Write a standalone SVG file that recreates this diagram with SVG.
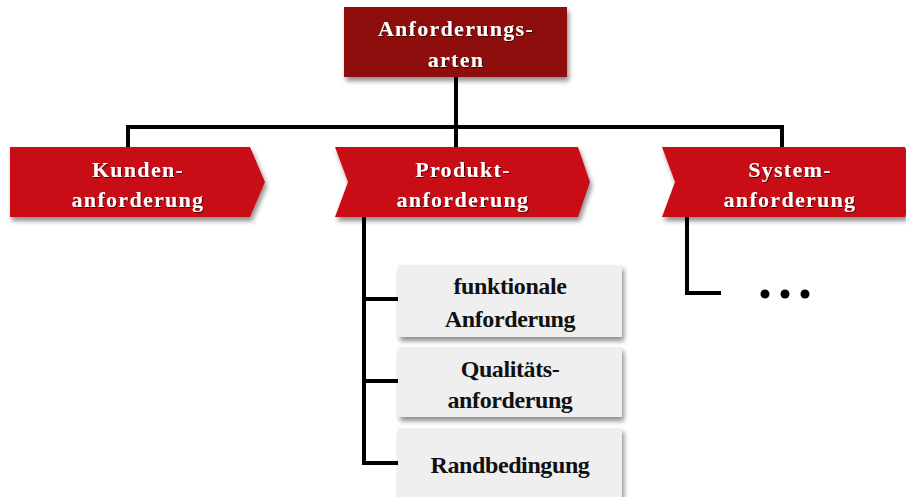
<svg xmlns="http://www.w3.org/2000/svg" width="906" height="497" viewBox="0 0 906 497">
  <defs>
    <filter id="shadow" x="-10%" y="-20%" width="130%" height="150%">
      <feGaussianBlur in="SourceAlpha" stdDeviation="2.5"/>
      <feOffset dx="2" dy="4" result="blur"/>
      <feComponentTransfer><feFuncA type="linear" slope="0.45"/></feComponentTransfer>
      <feMerge><feMergeNode/><feMergeNode in="SourceGraphic"/></feMerge>
    </filter>
    <filter id="textshadow" x="-5%" y="-20%" width="110%" height="150%">
      <feGaussianBlur in="SourceAlpha" stdDeviation="0.6"/>
      <feOffset dx="1" dy="1"/>
      <feComponentTransfer><feFuncA type="linear" slope="0.6"/></feComponentTransfer>
      <feMerge><feMergeNode/><feMergeNode in="SourceGraphic"/></feMerge>
    </filter>
  </defs>
  <style>
    .root { fill: #8E0E10; }
    .chev { fill: #C81013; }
    .leaf { fill: #EFEFEF; }
    .wt { font-family: "Liberation Serif", "Times New Roman", serif; font-weight: bold; font-size: 22px; letter-spacing: 1.3px; fill: #FFFFFF; text-anchor: middle; }
    .bt { font-family: "Liberation Serif", "Times New Roman", serif; font-weight: bold; font-size: 24px; letter-spacing: -0.4px; fill: #111111; text-anchor: middle; }
    .line { fill: none; stroke: #000000; stroke-width: 4; }
  </style>

  <!-- connectors -->
  <g id="connectors">
    <path class="line" d="M456 77 V127 M128 127 H782 M128 125 V147 M456 127 V147 M782 125 V147"/>
    <path class="line" d="M364 217 V463 M362 299 H398 M362 381 H398 M362 463 H398"/>
    <path class="line" d="M687 217 V293 H721"/>
  </g>

  <!-- root node -->
  <g id="node-anforderungsarten">
    <rect class="root" x="344" y="7" width="223" height="70" filter="url(#shadow)"/>
    <g filter="url(#textshadow)">
      <text class="wt" x="456" y="36">Anforderungs-</text>
      <text class="wt" x="456" y="67">arten</text>
    </g>
  </g>

  <!-- second level -->
  <g id="node-kundenanforderung">
    <polygon class="chev" points="10,147 250,147 265,182 250,217 10,217" filter="url(#shadow)"/>
    <g filter="url(#textshadow)">
      <text class="wt" x="138" y="177">Kunden-</text>
      <text class="wt" x="138" y="207">anforderung</text>
    </g>
  </g>

  <g id="node-produktanforderung">
    <polygon class="chev" points="335,147 578,147 590,182 578,217 335,217 348,182" filter="url(#shadow)"/>
    <g filter="url(#textshadow)">
      <text class="wt" x="463" y="177">Produkt-</text>
      <text class="wt" x="463" y="207">anforderung</text>
    </g>
  </g>

  <g id="node-systemanforderung">
    <polygon class="chev" points="662,147 905,147 917,182 905,217 662,217 675,182" filter="url(#shadow)"/>
    <g filter="url(#textshadow)">
      <text class="wt" x="790" y="177">System-</text>
      <text class="wt" x="790" y="207">anforderung</text>
    </g>
  </g>

  <!-- third level -->
  <g id="node-funktional">
    <rect class="leaf" x="398" y="265" width="224" height="72" filter="url(#shadow)"/>
    <text class="bt" x="510" y="294">funktionale</text>
    <text class="bt" x="510" y="327">Anforderung</text>
  </g>

  <g id="node-qualitaet">
    <rect class="leaf" x="398" y="347" width="224" height="70" filter="url(#shadow)"/>
    <text class="bt" x="510" y="377">Qualitäts-</text>
    <text class="bt" x="510" y="408">anforderung</text>
  </g>

  <g id="node-randbedingung">
    <rect class="leaf" x="398" y="428" width="224" height="75" filter="url(#shadow)"/>
    <text class="bt" x="510" y="473">Randbedingung</text>
  </g>

  <g id="node-weitere">
    <circle cx="765" cy="294" r="4.5" fill="#000"/>
    <circle cx="785" cy="294" r="4.5" fill="#000"/>
    <circle cx="805" cy="294" r="4.5" fill="#000"/>
  </g>
</svg>
